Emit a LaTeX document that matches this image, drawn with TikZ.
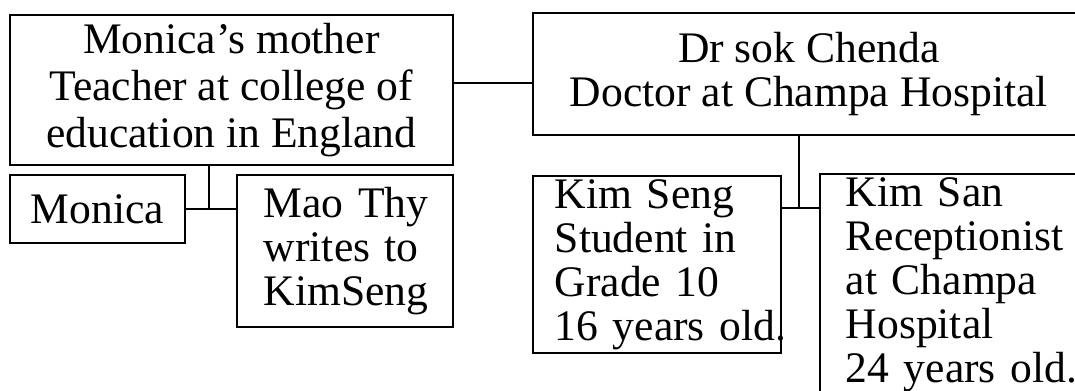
\documentclass[tikz,border=0pt]{standalone}
\usepackage{fontspec}
\setmainfont{Liberation Serif}
\usetikzlibrary{positioning}

\begin{document}
\begin{tikzpicture}[x=0.025cm,y=-0.025cm,
        member/.style={draw, line width=1.1pt, inner sep=0pt, font=\fontsize{31}{31.3}\selectfont},
        branch/.style={line width=1.1pt}]
            \useasboundingbox (0,0) rectangle (1075,390);

            % Draw the two parents
            \node[member, anchor=north west, align=center, minimum width=11.075cm, minimum height=3.75cm] (mother) at (9,14)
                {Monica's mother\\[2pt]Teacher at college of\\[2pt]education in England};
            \node[member, anchor=north west, align=center, minimum width=13.8cm, minimum height=3.05cm] (chenda) at (532,12)
                {Dr sok Chenda\\Doctor at Champa Hospital};

            % Draw the children
            \node[member, anchor=north west, minimum width=4.375cm, minimum height=1.7cm] (monica) at (9,174) {Monica};
            \node[member, anchor=north west, align=left, inner xsep=0.675cm, text width=4.05cm, minimum height=3.8cm] (maothy) at (236,174)
                {Mao~Thy\\writes~to\\KimSeng};
            \node[member, anchor=north west, align=left, inner xsep=0.55cm, text width=5.1cm, minimum height=4.425cm] (kimseng) at (532,175)
                {Kim~Seng\\Student~in\\Grade~10\\16~years~old.};
            \node[member, anchor=north west, align=left, inner xsep=0.65cm, text width=6cm, minimum height=5.525cm] (kimsan) at (819,173)
                {Kim~San\\Receptionist\\at~Champa\\Hospital\\24~years~old.};

            % Join the parents
            \coordinate (ab) at (0,83);
            \draw[branch] (mother.east |- ab) -- (chenda.west |- ab);

            % Join each parent to the children
            \coordinate (ka) at (209,208);
            \draw[branch] (monica.east) -- (maothy.west |- monica.east);
            \draw[branch] (ka) -- (ka |- mother.south);
            \coordinate (kb) at (799,208);
            \draw[branch] (kimseng.east |- kb) -- (kimsan.west |- kb);
            \draw[branch] (kb) -- (kb |- chenda.south);
        \end{tikzpicture}
\end{document}
